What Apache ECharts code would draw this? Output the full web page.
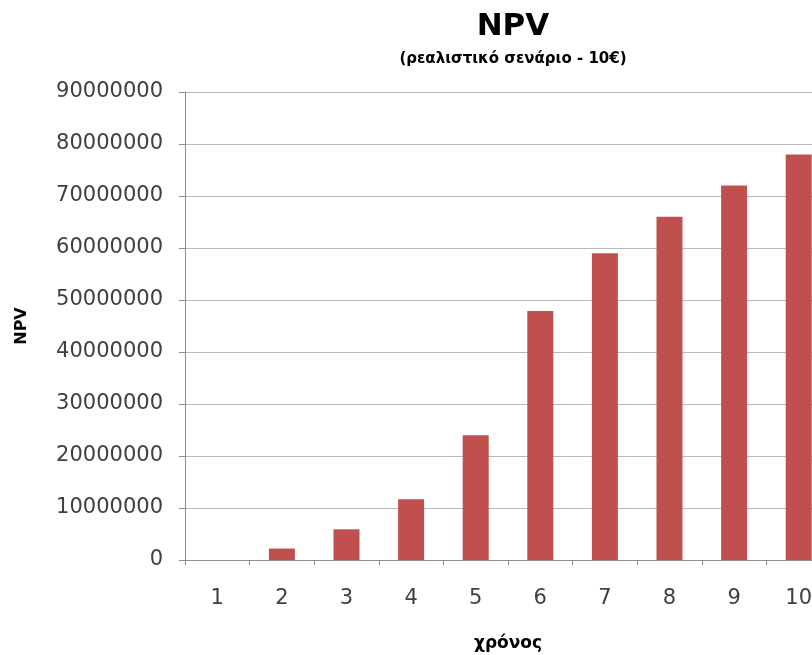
<!DOCTYPE html>
<html>
<head>
<meta charset="utf-8">
<script src="https://cdn.jsdelivr.net/npm/echarts@6/dist/echarts.min.js"></script>
<style>
  html, body { margin: 0; padding: 0; background: #ffffff; overflow: hidden; }
  #chart { width: 812px; height: 655px; }
</style>
</head>
<body>
<div id="chart"></div>
<script>
// Years of the projection and the net present value reached each year
const years = ['1', '2', '3', '4', '5', '6', '7', '8', '9', '10'];
const npvValues = [0, 2200000, 5900000, 11700000, 24000000, 47900000, 59000000, 66000000, 72000000, 78000000];
const titleText = 'NPV';
const subtitleText = '(ρεαλιστικό σενάριο - 10€)';
const xAxisName = 'χρόνος';
const yAxisName = 'NPV';

const chart = echarts.init(document.getElementById('chart'));

const labelFont = { fontFamily: 'DejaVu Sans', fontSize: 21, color: '#404040' };

chart.setOption({
  backgroundColor: '#ffffff',
  animation: false,
  title: {
    text: titleText,
    subtext: subtitleText,
    left: 508,
    textAlign: 'center',
    top: 6,
    itemGap: 10,
    textStyle: { fontFamily: 'DejaVu Sans', fontWeight: 'bold', fontSize: 31, color: '#000000' },
    subtextStyle: { fontFamily: 'DejaVu Sans', fontWeight: 'bold', fontSize: 15, color: '#000000' }
  },
  grid: { left: 185, right: -19, top: 92, bottom: 95, containLabel: false, outerBoundsMode: 'none' },
  xAxis: {
    type: 'category',
    data: years,
    name: xAxisName,
    nameLocation: 'middle',
    nameGap: 75,
    nameTextStyle: { fontFamily: 'DejaVu Sans', fontWeight: 'bold', fontSize: 17, color: '#000000' },
    axisLine: { lineStyle: { color: '#8c8c8c', width: 1 } },
    axisTick: { show: true, length: 5, lineStyle: { color: '#8c8c8c' } },
    axisLabel: Object.assign({ margin: 28 }, labelFont),
    splitLine: { show: false }
  },
  yAxis: {
    type: 'value',
    min: 0,
    max: 90000000,
    interval: 10000000,
    name: yAxisName,
    nameLocation: 'middle',
    nameGap: 155,
    nameRotate: 90,
    nameTextStyle: { fontFamily: 'DejaVu Sans', fontWeight: 'bold', fontSize: 16, color: '#000000' },
    axisLine: { show: true, lineStyle: { color: '#8c8c8c', width: 1 } },
    axisTick: { show: true, length: 6, lineStyle: { color: '#8c8c8c' } },
    axisLabel: Object.assign({ margin: 22, formatter: (v) => String(v) }, labelFont),
    splitLine: { show: true, lineStyle: { color: '#b9b9b9', width: 1 } }
  },
  series: [{
    type: 'bar',
    data: npvValues,
    barWidth: 26,
    itemStyle: { color: '#c0504d' }
  }]
});
</script>
</body>
</html>
